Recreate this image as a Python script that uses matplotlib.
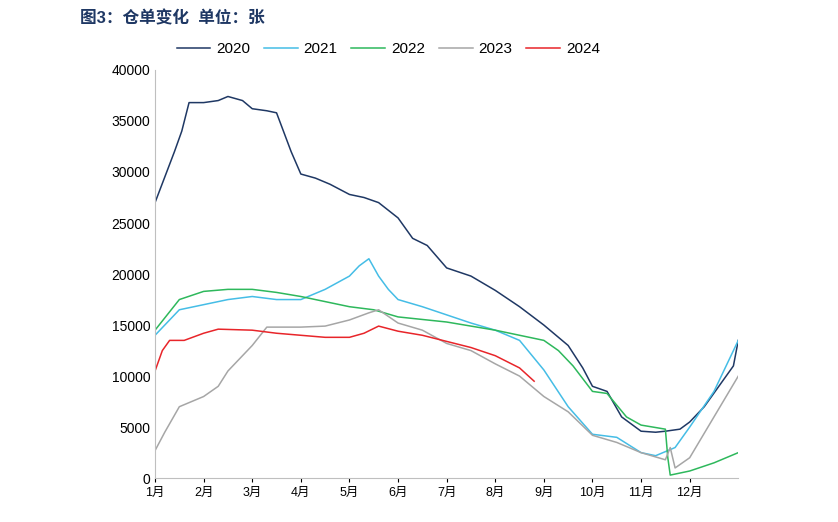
import matplotlib
matplotlib.use("Agg")
import matplotlib.pyplot as plt

plt.rcParams['font.family'] = ['Liberation Sans', 'Noto Sans CJK SC']

months = ['1月','2月','3月','4月','5月','6月','7月','8月','9月','10月','11月','12月']

x2020 = [0,0.2,0.4,0.55,0.7,1.0,1.3,1.5,1.8,2.0,2.3,2.5,2.8,3.0,3.3,3.6,4.0,4.3,4.6,5.0,5.3,5.6,6.0,6.5,7.0,7.5,8.0,8.5,8.8,9.0,9.3,9.6,10.0,10.3,10.5,10.8,11.0,11.3,11.6,11.9,12.0]
y2020 = [27000,29500,32000,34000,36800,36800,37000,37400,37000,36200,36000,35800,32000,29800,29400,28800,27800,27500,27000,25500,23500,22800,20600,19800,18400,16800,15000,13000,10800,9000,8500,6000,4600,4500,4600,4800,5500,7000,9000,11000,13500]

x2021 = [0,0.5,1.0,1.5,2.0,2.5,3.0,3.5,4.0,4.2,4.4,4.6,4.8,5.0,5.5,6.0,6.5,7.0,7.5,8.0,8.5,9.0,9.5,10.0,10.3,10.7,11.0,11.5,12.0]
y2021 = [14000,16500,17000,17500,17800,17500,17500,18500,19800,20800,21500,19800,18500,17500,16800,16000,15200,14500,13500,10600,7000,4300,4000,2500,2200,3000,5000,8500,13500]

x2022 = [0,0.5,1.0,1.5,2.0,2.5,3.0,3.5,4.0,4.5,5.0,6.0,7.0,7.5,8.0,8.3,8.6,9.0,9.3,9.7,10.0,10.5,10.55,10.6,11.0,11.5,12.0]
y2022 = [14500,17500,18300,18500,18500,18200,17800,17300,16800,16500,15800,15300,14500,14000,13500,12500,11000,8500,8300,6000,5200,4800,2000,300,700,1500,2500]

x2023 = [0,0.2,0.5,1.0,1.3,1.5,2.0,2.3,2.5,3.0,3.5,4.0,4.4,4.6,5.0,5.5,6.0,6.5,7.0,7.5,8.0,8.5,9.0,9.5,10.0,10.5,10.6,10.7,11.0,11.5,12.0]
y2023 = [2700,4500,7000,8000,9000,10500,13000,14800,14800,14800,14900,15500,16200,16500,15200,14500,13200,12500,11200,10000,8000,6500,4200,3500,2500,1800,3000,1000,2000,6000,10000]

x2024 = [0,0.15,0.3,0.6,1.0,1.3,2.0,2.5,3.0,3.5,4.0,4.3,4.6,5.0,5.5,6.0,6.5,7.0,7.5,7.8]
y2024 = [10500,12500,13500,13500,14200,14600,14500,14200,14000,13800,13800,14200,14900,14400,14000,13400,12800,12000,10800,9500]

fig = plt.figure(figsize=(8.38, 5.22), dpi=100)
ax = fig.add_axes([0.185, 0.084, 0.696, 0.782])
series = [(x2020,y2020,'2020','#1f3864'),(x2021,y2021,'2021','#45bde6'),
          (x2022,y2022,'2022','#2eb85c'),(x2023,y2023,'2023','#a6a6a6'),
          (x2024,y2024,'2024','#e8252a')]
for xs, ys, lab, c in series:
    ax.plot(xs, ys, color=c, lw=1.1, label=lab)
ax.set_xlim(0, 12)
ax.set_ylim(0, 40000)
ax.set_xticks(range(12))
ax.set_xticklabels(months, fontsize=9)
ax.set_yticks(range(0, 40001, 5000))
ax.tick_params(axis='y', labelsize=10, length=0)
ax.tick_params(axis='x', length=3, direction='out')
for s in ['top','right']:
    ax.spines[s].set_visible(False)
ax.spines['left'].set_color('#bfbfbf')
ax.spines['bottom'].set_color('#bfbfbf')
ax.legend(loc='lower center', bbox_to_anchor=(0.4, 1.0), ncol=5, frameon=False,
          fontsize=11, handlelength=2.2, columnspacing=0.9, handletextpad=0.4)
fig.text(0.095, 0.955, '图3：仓单变化  单位：张', fontsize=12, fontweight='bold', color='#1f3864')
fig.savefig('out.png', dpi=100)
